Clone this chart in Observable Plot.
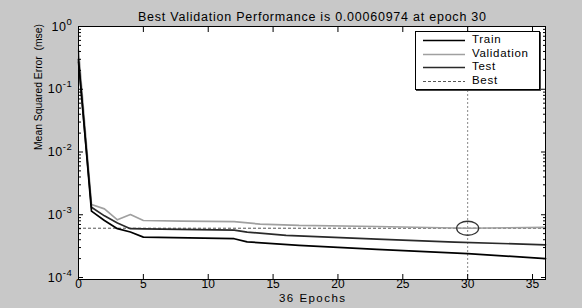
<!DOCTYPE html>
<html><head><meta charset="utf-8">
<script src="https://cdn.jsdelivr.net/npm/d3@7"></script>
<script src="https://cdn.jsdelivr.net/npm/@observablehq/plot@0.6"></script>
<style>
html,body{margin:0;padding:0;background:#c8c8c8;}
#wrap{position:relative;width:582px;height:308px;overflow:hidden;}
#legend{position:absolute;left:415px;top:31px;width:123px;height:57px;background:#fff;border:1px solid #000;box-shadow:1px 1px 0 #444;font:11.5px "Liberation Sans",Arial,sans-serif;}
.row{position:absolute;left:0;height:13px;width:123px;}
.row svg{position:absolute;left:7px;top:0;}
.row span{position:absolute;left:56px;top:-1px;line-height:13px;letter-spacing:0.7px;}
</style></head>
<body><div id="wrap"><div id="legend"></div></div>
<script>
// ---- data ----
const trainEpochs = [0, 1, 2, 3, 4, 5, 12, 13, 17, 23, 30, 36];
const trainMse    = [0.30, 1.14e-3, 8.1e-4, 6.0e-4, 5.3e-4, 4.4e-4, 4.15e-4, 3.7e-4, 3.25e-4, 2.8e-4, 2.4e-4, 2.0e-4];

const validationEpochs = [0, 1, 2, 3, 4, 5, 8, 12, 14, 17, 23, 30, 36];
const validationMse    = [0.42, 1.46e-3, 1.24e-3, 8.3e-4, 1.01e-3, 8.1e-4, 7.9e-4, 7.75e-4, 7.1e-4, 6.75e-4, 6.5e-4, 6.0974e-4, 6.3e-4];

const testEpochs = [0, 1, 2, 3, 4, 5, 12, 13, 16, 23, 29, 36];
const testMse    = [0.27, 1.32e-3, 9.6e-4, 7.4e-4, 6.0e-4, 5.95e-4, 5.7e-4, 5.3e-4, 4.7e-4, 4.1e-4, 3.66e-4, 3.32e-4];

const bestEpoch = 30;
const bestMse = 0.00060974;
const totalEpochs = 36;

const xTicks = [0, 5, 10, 15, 20, 25, 30, 35];
const yTicks = [1e-4, 1e-3, 1e-2, 1e-1, 1];
const yTickLabels = ["10^-4", "10^-3", "10^-2", "10^-1", "10^0"];

const seriesNames = ["Train", "Validation", "Test", "Best"];
const seriesColors = ["#000000", "#a0a0a0", "#2a2a2a", "#555555"];

const titleText = `Best Validation Performance is ${bestMse} at epoch ${bestEpoch}`;
const xLabel = `${totalEpochs} Epochs`;
const yLabel = "Mean Squared Error\u00A0 (mse)";

// ---- build tables ----
const toRows = (ep, v) => ep.map((e, i) => ({epoch: e, mse: v[i]}));
const train = toRows(trainEpochs, trainMse);
const validation = toRows(validationEpochs, validationMse);
const test = toRows(testEpochs, testMse);

const minorTicks = d3.scaleLog().domain([1e-4, 1]).ticks().filter(t => !yTicks.some(m => Math.abs(Math.log10(t) - Math.log10(m)) < 1e-9));

const ellipse = {draw(ctx) {
  const rx = 11, ry = 7, k = 0.5523;
  ctx.moveTo(rx, 0);
  ctx.bezierCurveTo(rx, ry * k, rx * k, ry, 0, ry);
  ctx.bezierCurveTo(-rx * k, ry, -rx, ry * k, -rx, 0);
  ctx.bezierCurveTo(-rx, -ry * k, -rx * k, -ry, 0, -ry);
  ctx.bezierCurveTo(rx * k, -ry, rx, -ry * k, rx, 0);
  ctx.closePath();
}};

const font = "Liberation Sans, Arial, sans-serif";
const labelFmt = d => yTickLabels[yTicks.findIndex(t => Math.abs(t - d) / t < 1e-9)] ?? "";

const chart = Plot.plot({
  width: 582, height: 308,
  marginLeft: 78, marginRight: 37, marginTop: 26, marginBottom: 29,
  style: {background: "#c8c8c8", fontFamily: font, fontSize: "11.5px", color: "#000"},
  x: {domain: [0, totalEpochs]},
  y: {type: "log", domain: [1e-4, 1], range: [277, 26]},
  marks: [
    Plot.frame({fill: "#ffffff", stroke: null}),
    Plot.ruleY([bestMse], {stroke: seriesColors[3], strokeDasharray: "3,2", strokeWidth: 1}),
    Plot.ruleX([bestEpoch], {stroke: "#888", strokeDasharray: "2,2", strokeWidth: 1}),
    Plot.line(validation, {x: "epoch", y: "mse", stroke: seriesColors[1], strokeWidth: 1.7}),
    Plot.line(test, {x: "epoch", y: "mse", stroke: seriesColors[2], strokeWidth: 1.7}),
    Plot.line(train, {x: "epoch", y: "mse", stroke: seriesColors[0], strokeWidth: 1.7}),
    Plot.dot([{epoch: bestEpoch, mse: bestMse}], {x: "epoch", y: "mse", symbol: ellipse, stroke: "#333", fill: "none", strokeWidth: 1.3}),
    // axes: inward ticks
    Plot.axisX({anchor: "bottom", ticks: xTicks, tickSize: -5, tickPadding: 5, label: null, tickFormat: d => String(d), fontSize: 12}),
    Plot.axisX({anchor: "top", ticks: xTicks, tickSize: -5, label: null, tickFormat: () => ""}),
    Plot.axisY({anchor: "left", ticks: yTicks, tickSize: -5, tickPadding: 11, label: null, tickFormat: labelFmt, fontSize: 12.5}),
    Plot.axisY({anchor: "right", ticks: yTicks, tickSize: -5, label: null, tickFormat: () => ""}),
    Plot.axisY({anchor: "left", ticks: minorTicks, tickSize: -3, label: null, tickFormat: () => ""}),
    Plot.axisY({anchor: "right", ticks: minorTicks, tickSize: -3, label: null, tickFormat: () => ""}),
    Plot.frame({stroke: "#000", strokeWidth: 1}),
    Plot.text([titleText], {frameAnchor: "top", dy: -14, fontSize: 12.5}),
    Plot.text([xLabel], {frameAnchor: "bottom", dy: 22, fontSize: 11.5}),
    Plot.text([yLabel], {frameAnchor: "left", dx: -40, dy: -3, rotate: -90, fontSize: 10.5})
  ]
});
document.getElementById("wrap").prepend(chart);

// stretch the wide MATLAB-style texts to the reference lengths
chart.querySelectorAll("text").forEach(t => {
  const s = t.textContent;
  if (s === titleText) { t.setAttribute("textLength", "348"); t.setAttribute("lengthAdjust", "spacing"); }
  if (s === xLabel) { t.setAttribute("textLength", "66"); t.setAttribute("lengthAdjust", "spacing"); }
  if (s === yLabel) { t.setAttribute("textLength", "126"); t.setAttribute("lengthAdjust", "spacingAndGlyphs"); }
});
// superscript exponents on y tick labels
chart.querySelectorAll("text").forEach(t => {
  const s = t.textContent;
  if (/^10\^/.test(s)) {
    const exp = s.split("^")[1];
    t.innerHTML = `10<tspan dy="-6" font-size="9.5">${exp}</tspan>`;
    t.setAttribute("letter-spacing", "0.6");
  }
});

// ---- legend ----
const legend = document.getElementById("legend");
const dashes = [null, null, null, "3,2"];
seriesNames.forEach((name, i) => {
  const row = document.createElement("div");
  row.className = "row";
  row.style.top = (2 + i * 13.5) + "px";
  row.innerHTML = `<svg width="44" height="13"><line x1="0" x2="42" y1="6.5" y2="6.5" stroke="${seriesColors[i]}" stroke-width="${i === 3 ? 1 : 1.7}" ${dashes[i] ? `stroke-dasharray="${dashes[i]}"` : ""}/></svg><span>${name}</span>`;
  legend.appendChild(row);
});
</script>
</body></html>
